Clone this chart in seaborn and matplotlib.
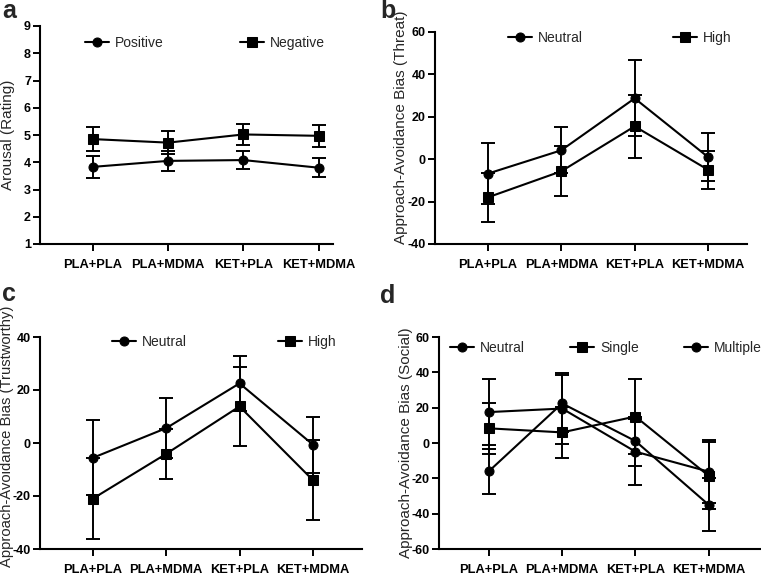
import matplotlib
matplotlib.use("Agg")
import matplotlib.pyplot as plt
import numpy as np
import pandas as pd
import seaborn as sns

# conditions on the x axis (same for all four panels)
conditions = ["PLA+PLA", "PLA+MDMA", "KET+PLA", "KET+MDMA"]

# a - arousal ratings
a_positive = [3.83, 4.05, 4.08, 3.80]
a_positive_err = [0.39, 0.37, 0.32, 0.35]
a_negative = [4.85, 4.72, 5.02, 4.97]
a_negative_err = [0.44, 0.41, 0.37, 0.41]

# b - threat
b_neutral = [-6.8, 4.2, 28.7, 1.0]
b_neutral_err = [14.5, 10.8, 17.9, 11.5]
b_high = [-18.0, -5.7, 15.5, -5.0]
b_high_err = [11.7, 11.8, 14.9, 9.1]

# c - trustworthy
c_neutral = [-5.6, 5.6, 22.5, -0.6]
c_neutral_err = [14.1, 11.4, 10.4, 10.6]
c_high = [-21.0, -4.1, 13.8, -14.0]
c_high_err = [15.4, 9.5, 15.0, 15.0]

# d - social
d_neutral = [17.5, 19.5, -4.9, -16.2]
d_neutral_err = [18.6, 20.3, 18.6, 17.9]
d_single = [8.3, 6.0, 15.0, -18.6]
d_single_err = [14.4, 14.6, 21.5, 19.0]
d_multiple = [-16.0, 22.4, 1.1, -35.0]
d_multiple_err = [12.6, 16.3, 13.9, 15.0]

sns.set_style("ticks")
plt.rcParams["font.family"] = ["Liberation Sans", "DejaVu Sans"]

W, H = 761, 578
fig = plt.figure(figsize=(W / 100, H / 100), dpi=100)


def px_axes(left, right, top, bottom):
    # axes from pixel box of the reference
    return fig.add_axes([left / W, 1 - bottom / H, (right - left) / W, (bottom - top) / H])


def panel(ax, series, markers, yticks, ylabel, xlim, leg_x, leg_y, colspace, label_size=11):
    rows = []
    for name, vals, errs in series:
        for i, (v, e) in enumerate(zip(vals, errs)):
            rows.append({"x": i, "y": v, "err": e, "group": name})
    df = pd.DataFrame(rows)
    names = [s[0] for s in series]
    for name in names:
        sub = df[df["group"] == name]
        ax.errorbar(sub["x"], sub["y"], yerr=sub["err"], fmt="none", ecolor="black",
                    elinewidth=1.4, capsize=5, capthick=1.4, zorder=2)
    sns.lineplot(data=df, x="x", y="y", hue="group", style="group", hue_order=names,
                 style_order=names, palette=["black"] * len(names), markers=markers,
                 dashes=False, markersize=6.5, linewidth=1.5, markeredgecolor="black",
                 ax=ax, zorder=3)
    handles, labels = ax.get_legend_handles_labels()
    ax.legend(handles, labels, loc="center left", bbox_to_anchor=(leg_x / W, 1 - leg_y / H),
              bbox_transform=fig.transFigure, ncol=len(names), frameon=False,
              fontsize=10, handlelength=1.75, handletextpad=0.4, columnspacing=colspace,
              borderpad=0, borderaxespad=0)
    ax.set_xlim(*xlim)
    ax.set_xticks(range(len(conditions)))
    ax.set_xticklabels(conditions, fontweight="bold", fontsize=9.3)
    ax.set_ylim(yticks[0], yticks[-1])
    ax.set_yticks(yticks)
    ax.set_yticklabels([str(t) for t in yticks], fontweight="bold", fontsize=9)
    ax.set_xlabel("")
    ax.set_ylabel(ylabel, fontsize=label_size)
    for s in ["top", "right"]:
        ax.spines[s].set_visible(False)
    for s in ["left", "bottom"]:
        ax.spines[s].set_linewidth(1.5)
        ax.spines[s].set_color("black")
    ax.tick_params(axis="both", direction="out", length=5, width=1.4, colors="black", pad=1.5)
    ax.tick_params(axis="x", pad=6)


ax_a = px_axes(40, 333, 26, 244)
panel(ax_a, [("Positive", a_positive, a_positive_err), ("Negative", a_negative, a_negative_err)],
      ["o", "s"], list(range(1, 10)), "Arousal (Rating)", (-0.7, 3.19), 85, 43, 5.5)
ax_a.yaxis.set_label_coords(-0.085, 0.5)

ax_b = px_axes(435, 747, 32, 244)
panel(ax_b, [("Neutral", b_neutral, b_neutral_err), ("High", b_high, b_high_err)],
      ["o", "s"], [-40, -20, 0, 20, 40, 60], "Approach-Avoidance Bias (Threat)",
      (-0.72, 3.53), 508, 38, 6.5)
ax_b.yaxis.set_label_coords(-0.086, 0.55)

ax_c = px_axes(40, 362, 337, 549)
panel(ax_c, [("Neutral", c_neutral, c_neutral_err), ("High", c_high, c_high_err)],
      ["o", "s"], [-40, -20, 0, 20, 40], "Approach-Avoidance Bias (Trustworthy)",
      (-0.72, 3.67), 112, 342, 6.55, label_size=10.6)
ax_c.yaxis.set_label_coords(-0.08, 0.53)

ax_d = px_axes(439, 760, 337, 549)
panel(ax_d, [("Neutral", d_neutral, d_neutral_err), ("Single", d_single, d_single_err),
             ("Multiple", d_multiple, d_multiple_err)],
      ["o", "s", "o"], [-60, -40, -20, 0, 20, 40, 60], "Approach-Avoidance Bias (Social)",
      (-0.68, 3.7), 450, 348, 3.25)
ax_d.yaxis.set_label_coords(-0.082, 0.5)

# panel letters (baseline positions)
for letter, x, y in [("a", 2, 18), ("b", 380, 18), ("c", 2, 301), ("d", 380, 303)]:
    fig.text(x / W, 1 - y / H, letter, fontsize=18, fontweight="bold", va="baseline", ha="left")

fig.savefig("out.png", dpi=100)
